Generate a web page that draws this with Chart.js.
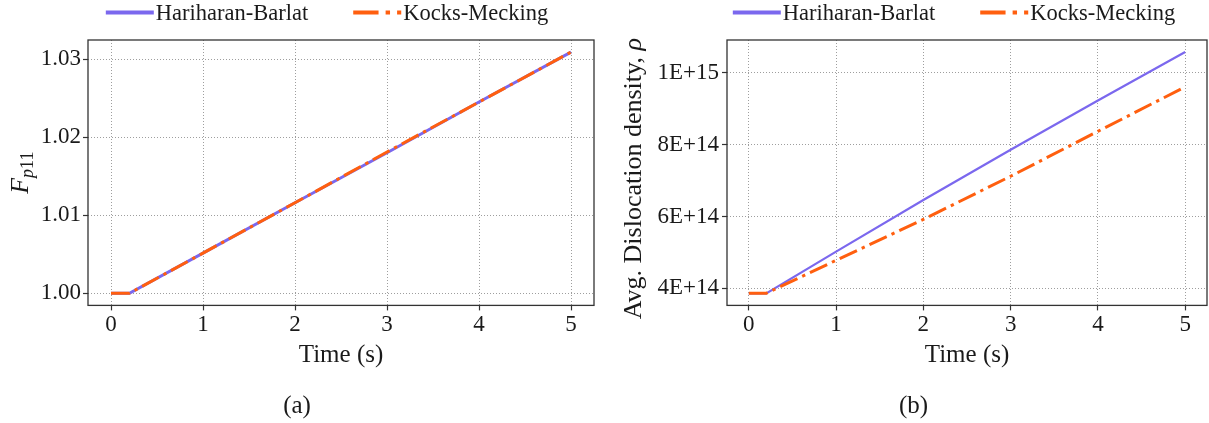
<!DOCTYPE html>
<html>
<head>
<meta charset="utf-8">
<script src="https://cdn.jsdelivr.net/npm/chart.js@4.4.1/dist/chart.umd.min.js"></script>
<style>
  html, body { margin: 0; padding: 0; background: #fff; }
  #fig { position: relative; width: 1209px; height: 423px; }
  #fig canvas { position: absolute; top: 0; }
  #cA { left: 0; }
  #cB { left: 620px; }
</style>
</head>
<body>
<div id="fig">
  <canvas id="cA" width="601" height="423"></canvas>
  <canvas id="cB" width="589" height="423"></canvas>
</div>
<script>
// time samples (s)
const time = [0, 0.2, 1, 2, 3, 4, 5];

// plastic deformation gradient, F_p11
const fpHB = [1.0, 1.0, 1.00515, 1.0116, 1.0180, 1.0245, 1.0309];
const fpKM = [1.0, 1.0, 1.00515, 1.0116, 1.0181, 1.0245, 1.0309];

// average dislocation density
const rhoHB = [3.86e14, 3.86e14, 5.02e14, 6.46e14, 7.86e14, 9.23e14, 1.058e15];
const rhoKM = [3.86e14, 3.86e14, 4.78e14, 5.92e14, 7.12e14, 8.37e14, 9.61e14];

const seriesNames = ['Hariharan-Barlat', 'Kocks-Mecking'];
const xTicks = [0, 1, 2, 3, 4, 5];
const fpTicks = [1.00, 1.01, 1.02, 1.03];
const fpTickLabels = ['1.00', '1.01', '1.02', '1.03'];
const rhoTicks = [4e14, 6e14, 8e14, 1e15];
const rhoTickLabels = ['4E+14', '6E+14', '8E+14', '1E+15'];

const SERIF = '"Liberation Serif", "DejaVu Serif", serif';
const INK = '#1a1a1a';
const HB_COLOR = '#7b68ee';
const KM_COLOR = '#ff5f0f';
const KM_DASH = [19, 5.3, 3.3, 5.3];

Chart.defaults.font.family = SERIF;
Chart.defaults.color = INK;

// box around the plot area
const frame = {
  id: 'frame',
  afterDatasetsDraw(chart) {
    const { ctx, chartArea: a } = chart;
    ctx.save();
    ctx.strokeStyle = '#333';
    ctx.lineWidth = 1.3;
    ctx.strokeRect(a.left, a.top, a.right - a.left, a.bottom - a.top);
    ctx.restore();
  }
};

// single-row legend above the plot
const topLegend = {
  id: 'topLegend',
  afterDraw(chart, args, opts) {
    const { ctx, chartArea: a } = chart;
    ctx.save();
    ctx.font = opts.font;
    const items = chart.data.datasets.map(ds => ({ ds, w: ctx.measureText(ds.label).width }));
    const total = items.reduce((s, it) => s + opts.sample + 2 + it.w, 0) + opts.gap * (items.length - 1);
    let x = (a.left + a.right) / 2 + opts.shift - total / 2;
    items.forEach(({ ds, w }) => {
      const k = opts.lineWidth / ds.borderWidth;
      ctx.strokeStyle = ds.borderColor;
      ctx.lineWidth = opts.lineWidth;
      ctx.setLineDash((ds.borderDash || []).map(d => d * k));
      ctx.beginPath();
      ctx.moveTo(x, opts.y);
      ctx.lineTo(x + opts.sample, opts.y);
      ctx.stroke();
      ctx.setLineDash([]);
      ctx.fillStyle = INK;
      ctx.textBaseline = 'middle';
      ctx.textAlign = 'left';
      ctx.fillText(ds.label, x + opts.sample + 2, opts.y + 1.5);
      x += opts.sample + 2 + w + opts.gap;
    });
    ctx.restore();
  }
};

// rotated y-axis label made of styled runs (italic symbols, subscripts)
const yTitle = {
  id: 'yTitle',
  afterDraw(chart, args, opts) {
    const { ctx, chartArea: a } = chart;
    ctx.save();
    ctx.translate(opts.x, (a.top + a.bottom) / 2 + opts.shift);
    ctx.rotate(-Math.PI / 2);
    ctx.fillStyle = INK;
    ctx.textBaseline = 'alphabetic';
    ctx.textAlign = 'left';
    const runs = opts.runs.map(r => {
      ctx.font = r.font;
      return Object.assign({ w: ctx.measureText(r.text).width }, r);
    });
    let x = -runs.reduce((s, r) => s + r.w, 0) / 2;
    runs.forEach(r => {
      ctx.font = r.font;
      ctx.fillText(r.text, x, r.dy || 0);
      x += r.w;
    });
    ctx.restore();
  }
};

function points(ys) {
  return time.map((t, i) => ({ x: t, y: ys[i] }));
}

function makeChart(id, o) {
  return new Chart(document.getElementById(id), {
    type: 'line',
    data: {
      datasets: [
        {
          label: seriesNames[0], data: points(o.hb),
          borderColor: HB_COLOR, borderWidth: o.hbWidth,
          pointRadius: 0, tension: 0, order: 2
        },
        {
          label: seriesNames[1], data: points(o.km),
          borderColor: KM_COLOR, borderWidth: 3, borderDash: KM_DASH,
          pointRadius: 0, tension: 0, order: 1
        }
      ]
    },
    options: {
      responsive: false,
      animation: false,
      devicePixelRatio: 1,
      layout: { padding: { top: 40, left: 0, right: o.padRight, bottom: 2 } },
      plugins: {
        legend: { display: false },
        tooltip: { enabled: false },
        title: {
          display: true, position: 'bottom', text: o.caption,
          font: { family: SERIF, size: 25, weight: 'normal' }, color: INK,
          padding: { top: 21, bottom: 0 }
        },
        topLegend: { font: '22.5px ' + SERIF, sample: 48, gap: 45, lineWidth: 4, y: 12.5, shift: o.legendShift },
        yTitle: o.yTitle
      },
      scales: {
        x: {
          type: 'linear', min: -0.25, max: 5.25,
          afterBuildTicks: s => { s.ticks = xTicks.map(v => ({ value: v })); },
          ticks: { font: { size: 23 }, color: INK, padding: 1, maxRotation: 0, callback: v => String(v) },
          grid: { color: 'rgba(0,0,0,0.38)', lineWidth: 1, tickColor: '#333', tickLength: 5, tickWidth: 1.2 },
          border: { display: false, dash: [1, 2] },
          title: {
            display: true, text: 'Time (s)', font: { size: 25 }, color: INK,
            padding: { top: 0, bottom: 0 }
          }
        },
        y: {
          type: 'linear', min: o.yMin, max: o.yMax,
          afterBuildTicks: s => { s.ticks = o.yTicks.map(v => ({ value: v })); },
          afterFit: s => { s.width = o.axisWidth; },
          ticks: {
            font: { size: 23 }, color: INK, padding: o.tickPad,
            callback: v => o.yLabels[o.yTicks.indexOf(v)]
          },
          grid: { color: 'rgba(0,0,0,0.38)', lineWidth: 1, tickColor: '#333', tickLength: 5, tickWidth: 1.2 },
          border: { display: false, dash: [1, 2] }
        }
      }
    },
    plugins: [frame, topLegend, yTitle]
  });
}

makeChart('cA', {
  hb: fpHB, km: fpKM, hbWidth: 3,
  yMin: 0.99845, yMax: 1.03245, yTicks: fpTicks, yLabels: fpTickLabels,
  axisWidth: 88, tickPad: 2, padRight: 7, caption: '(a)', legendShift: -14,
  yTitle: {
    x: 28, shift: 0,
    runs: [
      { text: 'F', font: 'italic 26px ' + SERIF },
      { text: 'p', font: 'italic 18px ' + SERIF, dy: 5 },
      { text: '11', font: '18px ' + SERIF, dy: 5 }
    ]
  }
});

makeChart('cB', {
  hb: rhoHB, km: rhoKM, hbWidth: 2.2,
  yMin: 3.524e14, yMax: 1.0914e15, yTicks: rhoTicks, yLabels: rhoTickLabels,
  axisWidth: 107, tickPad: 3, padRight: 2, caption: '(b)', legendShift: -13,
  yTitle: {
    x: 21, shift: 6,
    runs: [
      { text: 'Avg. Dislocation density, ', font: '26px ' + SERIF },
      { text: 'ρ', font: 'italic 26px ' + SERIF }
    ]
  }
});
</script>
</body>
</html>
